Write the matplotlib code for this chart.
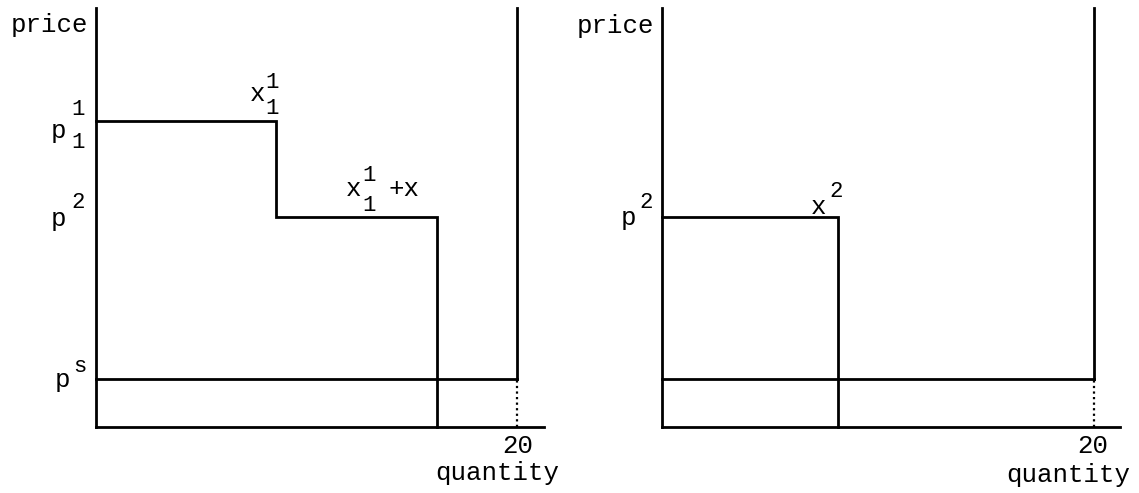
import matplotlib.pyplot as plt

# figure size in pixels
W, H = 1139, 493

# quantity axis runs 0..20 (capacity), price axis 0..10 (arbitrary units)
cap = 20
p_top = 10

# left panel: two-step demand curve
left_q = [0, 8.55, 8.55, 16.2, 16.2]
left_p = [7.3, 7.3, 5.0, 5.0, 0]

# right panel: single-step demand
right_q = [0, 8.15, 8.15]
right_p = [5.0, 5.0, 0]

# supply price level (both panels)
p_s = 1.15

plt.rcParams['font.family'] = ['Liberation Mono', 'DejaVu Sans Mono']
BIG = 18.5
SMALL = 16

fig = plt.figure(figsize=(W / 100, H / 100), dpi=100)


def lab(x, y, s, size=BIG, ha='left', va='baseline'):
    # place text at pixel position (origin top-left)
    fig.text(x / W, 1 - y / H, s, fontsize=size, ha=ha, va=va, color='black')


def panel(x0, x1, px_per_q, q, p):
    ax = fig.add_axes([x0 / W, 1 - 427 / H, (x1 - x0) / W, (427 - 8) / H])
    ax.set_xlim(0, (x1 - x0) / px_per_q)
    ax.set_ylim(0, p_top)
    for s in ['top', 'right']:
        ax.spines[s].set_visible(False)
    for s in ['left', 'bottom']:
        ax.spines[s].set_linewidth(2.0)
    ax.set_xticks([])
    ax.set_yticks([])
    ax.patch.set_alpha(0)
    ax.plot(q, p, color='black', lw=2.0, clip_on=False, solid_joinstyle='miter')
    ax.plot([0, cap], [p_s, p_s], color='black', lw=2.0, clip_on=False)
    ax.plot([cap, cap], [p_s, p_top], color='black', lw=2.0, clip_on=False)
    ax.plot([cap, cap], [0, p_s], color='black', lw=1.6, ls=(0, (1, 1.5)), clip_on=False)
    return ax


ax1 = panel(96, 544, 21.05, left_q, left_p)
ax2 = panel(662, 1120, 21.6, right_q, right_p)

# left panel labels
lab(88, 25, 'price', ha='right', va='center')
lab(51, 138, 'p')
lab(71, 115, '1', SMALL)
lab(71, 148, '1', SMALL)
lab(51, 226, 'p')
lab(71, 208, '2', SMALL)
lab(55, 387, 'p')
lab(73, 372, 's', SMALL)
lab(250, 101, 'x')
lab(265, 88, '1', SMALL)
lab(265, 114, '1', SMALL)
lab(346, 196, 'x')
lab(362, 181, '1', SMALL)
lab(362, 211, '1', SMALL)
lab(388, 196, '+x')
lab(518, 453, '20', ha='center')
lab(497, 480, 'quantity', ha='center')

# right panel labels
lab(654, 26, 'price', ha='right', va='center')
lab(621, 225, 'p')
lab(639, 208, '2', SMALL)
lab(811, 214, 'x')
lab(829, 197, '2', SMALL)
lab(1093, 453, '20', ha='center')
lab(1068, 482, 'quantity', ha='center')

fig.savefig('out.png', dpi=100, facecolor='white')
